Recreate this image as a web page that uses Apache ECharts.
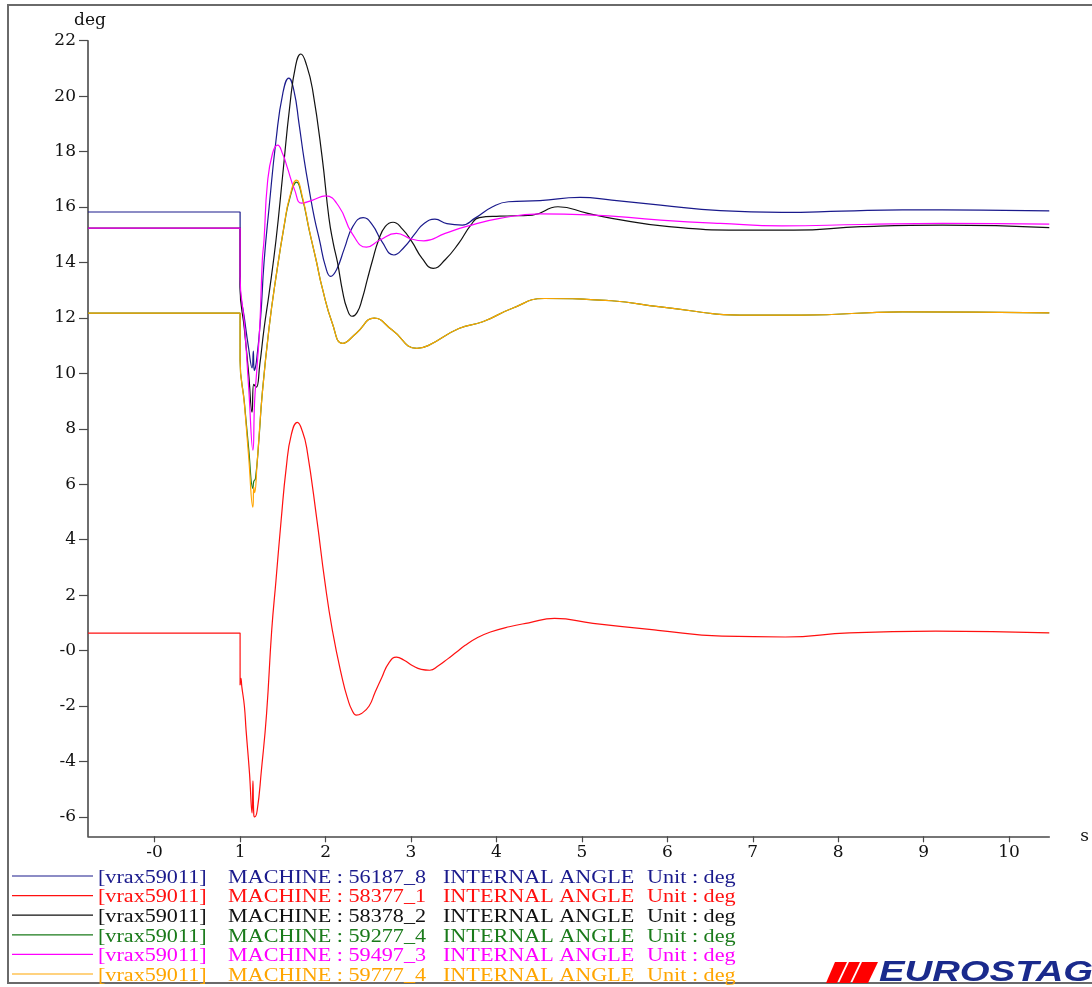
<!DOCTYPE html>
<html><head><meta charset="utf-8">
<script src="https://cdn.jsdelivr.net/npm/echarts@6/dist/echarts.min.js"></script>
<style>html,body{margin:0;padding:0;background:#fff}#c{width:1092px;height:987px}</style>
</head><body><div id="c"></div><script>
// ---- data ----
const xTicks = [0,1,2,3,4,5,6,7,8,9,10];
const yTicks = [-6,-4,-2,0,2,4,6,8,10,12,14,16,18,20,22];

const seriesNames = ['56187_8','58377_1','58378_2','59277_4','59497_3','59777_4'];
const seriesColors = ['#1a1a8c','#ff1010','#111111','#1a7a1a','#ff00ff','#ffa500'];

const m56187_8 = [[-0.78,15.82],[1.0,15.82],[1.0,13.2],[1.05,12.0],[1.1,10.9],[1.14,10.2],[1.155,10.8],[1.165,10.1],[1.19,10.4],[1.24,12.0],[1.28,14.0],[1.34,16.0],[1.42,18.4],[1.5,20.1],[1.57,20.65],[1.63,20.2],[1.69,19.0],[1.75,17.7],[1.81,16.6],[1.87,15.6],[1.93,14.8],[2.0,13.85],[2.06,13.5],[2.13,13.75],[2.22,14.5],[2.32,15.3],[2.44,15.62],[2.55,15.35],[2.66,14.75],[2.8,14.27],[2.92,14.55],[3.05,15.05],[3.15,15.4],[3.28,15.56],[3.42,15.4],[3.6,15.35],[3.75,15.6],[3.95,16.0],[4.14,16.19],[4.51,16.23],[4.98,16.35],[5.35,16.25],[5.92,16.07],[6.62,15.87],[7.34,15.81],[8.04,15.85],[8.75,15.9],[9.68,15.89],[10.47,15.86]];

const m58377_1 = [[-0.78,0.63],[1.0,0.63],[1.0,-1.25],[1.01,-1.0],[1.02,-1.3],[1.05,-2.0],[1.07,-2.87],[1.11,-4.42],[1.14,-5.86],[1.15,-4.7],[1.16,-5.9],[1.17,-6.0],[1.2,-5.77],[1.25,-4.3],[1.31,-2.27],[1.37,0.73],[1.42,2.53],[1.48,4.69],[1.54,6.6],[1.6,7.8],[1.67,8.23],[1.73,7.9],[1.78,7.3],[1.9,4.69],[1.99,2.53],[2.08,0.73],[2.2,-1.07],[2.26,-1.75],[2.31,-2.15],[2.36,-2.33],[2.42,-2.27],[2.51,-2.0],[2.58,-1.5],[2.66,-0.96],[2.74,-0.45],[2.83,-0.24],[2.92,-0.35],[3.02,-0.55],[3.12,-0.68],[3.22,-0.71],[3.32,-0.55],[3.43,-0.3],[3.53,-0.06],[3.63,0.18],[3.78,0.47],[3.93,0.67],[4.15,0.86],[4.38,1.0],[4.68,1.16],[5.13,0.98],[5.89,0.73],[6.64,0.52],[7.38,0.49],[8.13,0.64],[9.14,0.7],[10.47,0.64]];

const m58378_2 = [[-0.78,15.24],[1.0,15.24],[1.0,13.1],[1.05,11.6],[1.1,10.0],[1.14,8.6],[1.16,9.6],[1.19,9.5],[1.23,10.3],[1.28,11.6],[1.34,12.9],[1.42,14.8],[1.5,17.2],[1.58,19.6],[1.65,21.1],[1.71,21.52],[1.78,21.1],[1.85,20.2],[1.96,17.8],[2.04,15.6],[2.09,14.7],[2.14,14.0],[2.2,12.95],[2.25,12.35],[2.31,12.06],[2.37,12.2],[2.43,12.7],[2.49,13.4],[2.55,14.08],[2.62,14.8],[2.7,15.3],[2.79,15.45],[2.9,15.2],[3.01,14.75],[3.13,14.15],[3.26,13.79],[3.4,14.1],[3.56,14.7],[3.7,15.35],[3.8,15.62],[4.04,15.67],[4.42,15.71],[4.72,16.01],[5.07,15.77],[5.35,15.59],[6.02,15.29],[6.86,15.17],[7.48,15.17],[8.27,15.29],[9.22,15.35],[10.47,15.26]];

const m59277_4 = [[-0.78,12.17],[1.0,12.17],[1.0,10.47],[1.05,8.95],[1.1,7.3],[1.15,5.85],[1.16,6.1],[1.18,6.2],[1.22,7.6],[1.26,9.3],[1.34,11.67],[1.42,13.47],[1.52,15.4],[1.58,16.3],[1.66,16.9],[1.73,16.3],[1.81,15.15],[1.89,14.08],[1.96,13.1],[2.08,11.8],[2.2,11.08],[2.36,11.45],[2.57,11.99],[2.78,11.56],[3.07,10.9],[3.2,11.0],[3.56,11.62],[3.84,11.86],[4.18,12.34],[4.56,12.7],[5.35,12.62],[5.92,12.4],[6.95,12.1],[7.57,12.1],[8.75,12.22],[10.47,12.18]];

const m59497_3 = [[-0.78,15.24],[1.0,15.24],[1.0,13.5],[1.05,11.8],[1.1,9.5],[1.15,7.23],[1.17,9.0],[1.2,10.3],[1.23,11.67],[1.26,14.08],[1.28,14.8],[1.32,16.86],[1.38,17.94],[1.44,18.23],[1.5,17.9],[1.55,17.45],[1.64,16.6],[1.72,16.14],[1.85,16.25],[2.0,16.4],[2.16,16.0],[2.31,15.05],[2.48,14.55],[2.63,14.8],[2.83,15.05],[3.0,14.85],[3.15,14.78],[3.4,15.05],[3.66,15.31],[4.04,15.59],[4.51,15.75],[5.07,15.72],[5.92,15.53],[6.62,15.41],[7.34,15.32],[8.27,15.37],[9.22,15.41],[10.47,15.38]];

const m59777_4 = [[-0.78,12.17],[1.0,12.17],[1.0,10.47],[1.05,8.9],[1.1,7.0],[1.15,5.17],[1.16,5.9],[1.17,5.7],[1.2,6.8],[1.26,9.28],[1.34,11.67],[1.42,13.47],[1.52,15.42],[1.58,16.36],[1.66,16.97],[1.73,16.36],[1.81,15.17],[1.89,14.08],[1.96,13.1],[2.08,11.8],[2.2,11.08],[2.36,11.45],[2.57,11.99],[2.78,11.56],[3.07,10.9],[3.2,11.0],[3.56,11.62],[3.84,11.86],[4.18,12.34],[4.56,12.7],[5.35,12.62],[5.92,12.4],[6.95,12.1],[7.57,12.1],[8.75,12.22],[10.47,12.18]];

const seriesData = [m56187_8, m58377_1, m58378_2, m59277_4, m59497_3, m59777_4];

// ---- chart ----
const chart = echarts.init(document.getElementById('c'), null, {renderer:'canvas'});
const axisColor = '#4a4a4a';
const labelFont = {fontFamily:'DejaVu Serif', fontSize:17, color:'#111'};
const fmt = v => (v === 0 ? '-0' : String(v));

const series = seriesNames.map((n, i) => ({
  name: n, type: 'line', data: seriesData[i], symbol: 'none', showSymbol: false,
  smooth: 0.5, animation: false, lineStyle: {color: seriesColors[i], width: 1.2},
  itemStyle: {color: seriesColors[i]}
}));

// legend drawn as text rows
const legendY0 = 876, legendDY = 19.6;
const cols = [98, 228, 443, 647];
const graphic = [
  {type:'rect', shape:{x:8, y:5, width:1200, height:978}, style:{fill:'none', stroke:'#6a6a6a', lineWidth:2}, silent:true}
];
seriesNames.forEach((n, i) => {
  const y = legendY0 + i * legendDY;
  const parts = ['[vrax59011]', 'MACHINE : ' + n, 'INTERNAL ANGLE', 'Unit : deg'];
  graphic.push({type:'line', shape:{x1:12, y1:y, x2:93, y2:y}, style:{stroke: seriesColors[i], lineWidth:1.2}});
  parts.forEach((p, k) => graphic.push({
    type:'text', x: cols[k], y: y + 2, scaleX: 1.23,
    style:{text: p, fill: seriesColors[i], fontFamily:'Liberation Serif', fontSize:18, verticalAlign:'middle', align:'left'}
  }));
});
// EUROSTAG logo
[[[835,962],[847,962],[837,983],[826,983]],
 [[849,962],[860,962],[850,983],[839,983]],
 [[862,962],[878,962],[868,983],[852,983]]].forEach(pts =>
  graphic.push({type:'polygon', shape:{points: pts}, style:{fill:'#ff0000'}}));
graphic.push({type:'text', x: 879, y: 973, scaleX: 1.32,
  style:{text:'EUROSTAG', fill:'#1a2a8c', fontFamily:'Liberation Sans', fontWeight:'bold', fontStyle:'italic', fontSize:29, verticalAlign:'middle', align:'left'}});

chart.setOption({
  backgroundColor: '#ffffff',
  animation: false,
  grid: {left: 88, right: 40, top: 40.7, bottom: 150.7, containLabel: false},
  xAxis: {
    type: 'value', min: -0.78, max: 10.47,
    axisLine: {show: true, onZero: false, lineStyle: {color: axisColor, width: 1.6}},
    axisTick: {show: true, length: 6, customValues: xTicks, lineStyle: {color: axisColor, width: 1.2}},
    axisLabel: Object.assign({customValues: xTicks, formatter: fmt, margin: 8}, labelFont),
    splitLine: {show: false},
    name: 's', nameLocation: 'end', nameGap: 31,
    nameTextStyle: {fontFamily:'DejaVu Serif', fontSize:17, color:'#111', verticalAlign:'middle', padding:[6,0,0,0]}
  },
  yAxis: {
    type: 'value', min: -6.7, max: 22,
    axisLine: {show: true, onZero: false, lineStyle: {color: axisColor, width: 1.6}},
    axisTick: {show: true, length: 9, customValues: yTicks, lineStyle: {color: axisColor, width: 1.2}},
    axisLabel: Object.assign({customValues: yTicks, formatter: fmt, margin: 12}, labelFont),
    splitLine: {show: false},
    name: 'deg', nameLocation: 'end', nameGap: 12,
    nameTextStyle: {fontFamily:'DejaVu Serif', fontSize:17, color:'#111', align:'center', padding:[0,0,0,4]}
  },
  series: series,
  graphic: graphic
});
</script></body></html>
